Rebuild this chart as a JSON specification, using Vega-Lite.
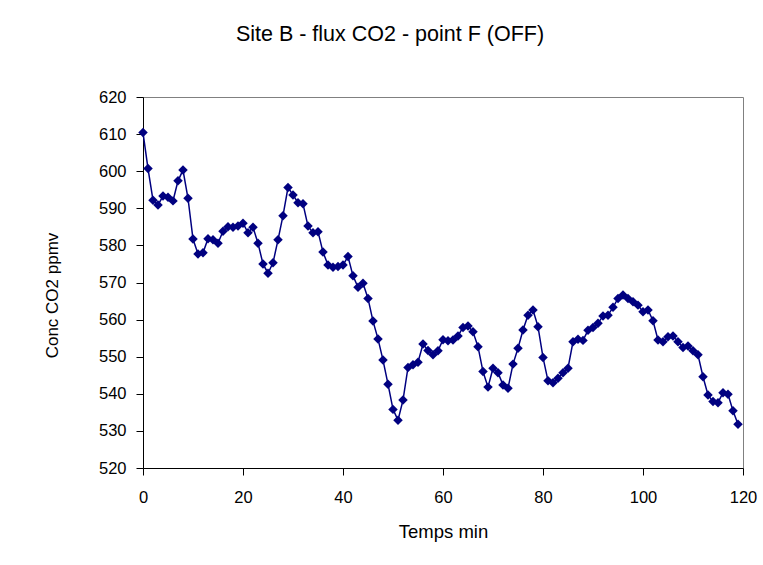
{
  "$schema": "https://vega.github.io/schema/vega-lite/v6.json",
  "width": 600,
  "height": 371,
  "autosize": {"type": "none"},
  "padding": {"left": 143, "top": 97, "right": 20, "bottom": 97},
  "background": "white",
  "title": {
    "text": "Site B - flux CO2 - point F (OFF)",
    "font": "Liberation Sans",
    "fontSize": 21.5,
    "fontWeight": "normal",
    "color": "black",
    "anchor": "middle",
    "dx": -53,
    "offset": 44
  },
  "config": {
    "view": {"stroke": "#808080", "strokeWidth": 1},
    "axis": {
      "labelFont": "Liberation Sans",
      "titleFont": "Liberation Sans",
      "labelFontSize": 16.5,
      "titleFontSize": 17.5,
      "titleFontWeight": "normal",
      "labelColor": "black",
      "titleColor": "black",
      "domainColor": "black",
      "tickColor": "black",
      "grid": false,
      "tickSize": 7,
      "labelFlush": false
    }
  },
  "data": {
    "values": [
      {"t": 0, "c": 610.4}, {"t": 1, "c": 600.7}, {"t": 2, "c": 592.2}, {"t": 3, "c": 590.9},
      {"t": 4, "c": 593.3}, {"t": 5, "c": 593.0}, {"t": 6, "c": 592.0}, {"t": 7, "c": 597.4},
      {"t": 8, "c": 600.3}, {"t": 9, "c": 592.7}, {"t": 10, "c": 581.7}, {"t": 11, "c": 577.7},
      {"t": 12, "c": 578.0}, {"t": 13, "c": 581.8}, {"t": 14, "c": 581.5}, {"t": 15, "c": 580.6},
      {"t": 16, "c": 583.8}, {"t": 17, "c": 585.0}, {"t": 18, "c": 584.9}, {"t": 19, "c": 585.2},
      {"t": 20, "c": 586.0}, {"t": 21, "c": 583.4}, {"t": 22, "c": 584.9}, {"t": 23, "c": 580.6},
      {"t": 24, "c": 575.0}, {"t": 25, "c": 572.5}, {"t": 26, "c": 575.3}, {"t": 27, "c": 581.5},
      {"t": 28, "c": 588.0}, {"t": 29, "c": 595.6}, {"t": 30, "c": 593.6}, {"t": 31, "c": 591.5},
      {"t": 32, "c": 591.2}, {"t": 33, "c": 585.2}, {"t": 34, "c": 583.4}, {"t": 35, "c": 583.7},
      {"t": 36, "c": 578.2}, {"t": 37, "c": 574.7}, {"t": 38, "c": 574.1}, {"t": 39, "c": 574.3},
      {"t": 40, "c": 574.7}, {"t": 41, "c": 577.0}, {"t": 42, "c": 571.8}, {"t": 43, "c": 568.7},
      {"t": 44, "c": 569.8}, {"t": 45, "c": 565.7}, {"t": 46, "c": 559.6}, {"t": 47, "c": 554.8},
      {"t": 48, "c": 549.1}, {"t": 49, "c": 542.6}, {"t": 50, "c": 535.8}, {"t": 51, "c": 532.9},
      {"t": 52, "c": 538.3}, {"t": 53, "c": 547.1}, {"t": 54, "c": 547.8}, {"t": 55, "c": 548.5},
      {"t": 56, "c": 553.4}, {"t": 57, "c": 551.7}, {"t": 58, "c": 550.5}, {"t": 59, "c": 551.6},
      {"t": 60, "c": 554.6}, {"t": 61, "c": 554.3}, {"t": 62, "c": 554.5}, {"t": 63, "c": 555.6},
      {"t": 64, "c": 557.9}, {"t": 65, "c": 558.3}, {"t": 66, "c": 556.7}, {"t": 67, "c": 552.7},
      {"t": 68, "c": 546.0}, {"t": 69, "c": 541.8}, {"t": 70, "c": 546.9}, {"t": 71, "c": 545.7},
      {"t": 72, "c": 542.4}, {"t": 73, "c": 541.5}, {"t": 74, "c": 548.0}, {"t": 75, "c": 552.3},
      {"t": 76, "c": 557.2}, {"t": 77, "c": 561.2}, {"t": 78, "c": 562.6}, {"t": 79, "c": 558.1},
      {"t": 80, "c": 549.8}, {"t": 81, "c": 543.5}, {"t": 82, "c": 543.0}, {"t": 83, "c": 544.2},
      {"t": 84, "c": 545.7}, {"t": 85, "c": 546.9}, {"t": 86, "c": 554.0}, {"t": 87, "c": 554.7},
      {"t": 88, "c": 554.4}, {"t": 89, "c": 557.1}, {"t": 90, "c": 557.9}, {"t": 91, "c": 559.0},
      {"t": 92, "c": 561.0}, {"t": 93, "c": 561.2}, {"t": 94, "c": 563.3}, {"t": 95, "c": 565.7},
      {"t": 96, "c": 566.6}, {"t": 97, "c": 565.7}, {"t": 98, "c": 564.8}, {"t": 99, "c": 563.9},
      {"t": 100, "c": 562.1}, {"t": 101, "c": 562.6}, {"t": 102, "c": 559.7}, {"t": 103, "c": 554.5},
      {"t": 104, "c": 554.0}, {"t": 105, "c": 555.4}, {"t": 106, "c": 555.6}, {"t": 107, "c": 554.0},
      {"t": 108, "c": 552.5}, {"t": 109, "c": 552.9}, {"t": 110, "c": 551.6}, {"t": 111, "c": 550.5},
      {"t": 112, "c": 544.6}, {"t": 113, "c": 539.7}, {"t": 114, "c": 537.9}, {"t": 115, "c": 537.6},
      {"t": 116, "c": 540.3}, {"t": 117, "c": 539.9}, {"t": 118, "c": 535.4}, {"t": 119, "c": 531.8}
    ]
  },
  "encoding": {
    "x": {
      "field": "t",
      "type": "quantitative",
      "scale": {"domain": [0, 120], "nice": false},
      "axis": {"values": [0, 20, 40, 60, 80, 100, 120], "title": "Temps min", "titleFontSize": 18.5, "labelPadding": 14, "titlePadding": 17}
    },
    "y": {
      "field": "c",
      "type": "quantitative",
      "scale": {"domain": [520, 620], "nice": false, "zero": false},
      "axis": {"values": [520, 530, 540, 550, 560, 570, 580, 590, 600, 610, 620], "title": "Conc CO2 ppmv", "titleFontSize": 17, "labelPadding": 10, "titlePadding": 37, "titleY": 198}
    }
  },
  "layer": [
    {"mark": {"type": "line", "color": "#000080", "strokeWidth": 1.5}},
    {"mark": {"type": "point", "shape": "diamond", "filled": true, "color": "#000080", "opacity": 1, "size": 90}}
  ]
}
